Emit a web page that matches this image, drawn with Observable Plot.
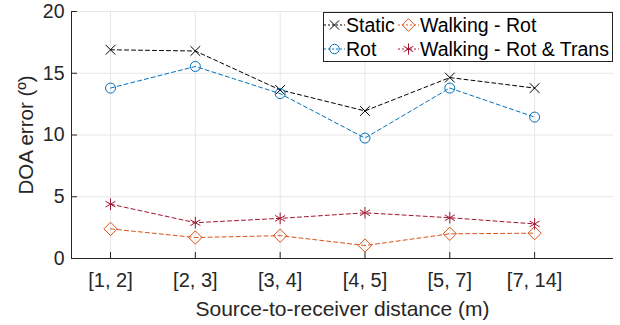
<!DOCTYPE html>
<html><head><meta charset="utf-8">
<script src="https://cdn.jsdelivr.net/npm/d3@7"></script>
<script src="https://cdn.jsdelivr.net/npm/@observablehq/plot@0.6"></script>
<style>
body{margin:0;background:#fff;font-family:"Liberation Sans",Arial,sans-serif;}
#wrap{position:relative;width:620px;height:325px;}
#legend{position:absolute;left:323px;top:12px;width:288px;height:48px;border:1px solid #262626;background:#fff;font-size:19.5px;color:#000;}
.item{position:absolute;display:flex;align-items:center;height:24px;white-space:nowrap;}
.item svg{margin-right:1px;}
</style></head>
<body><div id="wrap"><div id="legend"></div></div>
<script>
const categories = ["[1, 2]", "[2, 3]", "[3, 4]", "[4, 5]", "[5, 7]", "[7, 14]"];
const seriesNames = ["Static", "Rot", "Walking - Rot", "Walking - Rot & Trans"];
const staticVals = [16.9, 16.8, 13.65, 11.95, 14.65, 13.8];
const rotVals = [13.8, 15.55, 13.35, 9.75, 13.8, 11.45];
const walkRotVals = [2.4, 1.7, 1.85, 1.05, 2.0, 2.05];
const walkRotTransVals = [4.4, 2.9, 3.25, 3.7, 3.3, 2.8];
const yTicks = [0, 5, 10, 15, 20];
const colors = ["#000000", "#0072BD", "#D95319", "#A2142F"];
const symbols = ["times", "circle", "diamond2", "asterisk"];
const sizes = [4.5, 5, 6, 5.5];

const allVals = [staticVals, rotVals, walkRotVals, walkRotTransVals];
const data = [];
allVals.forEach((vals, s) => vals.forEach((v, i) => data.push({series: seriesNames[s], i: i + 1, v})));
const xTicks = categories.map((c, i) => i + 1);

const marks = [
  Plot.gridY(yTicks, {stroke: "#e6e6e6", strokeOpacity: 1}),
  Plot.gridX(xTicks, {stroke: "#e6e6e6", strokeOpacity: 1}),
  Plot.axisY(yTicks, {tickSize: 6, dx: 6, text: null, stroke: "#262626", label: null}),
  Plot.axisY(yTicks, {tickSize: 0, tickPadding: 7, fontSize: 19.5, fill: "#262626", label: null}),
  Plot.axisX(xTicks, {tickSize: 6, dy: -6, text: null, stroke: "#262626", label: null}),
  Plot.axisX(xTicks, {tickSize: 0, tickPadding: 14, fontSize: 20, fill: "#262626", tickFormat: d => categories[d - 1], label: null}),
  Plot.ruleX([0.54], {stroke: "#262626"}),
  Plot.ruleY([0], {stroke: "#262626"}),
];
seriesNames.forEach((name, s) => {
  const d = data.filter(r => r.series === name);
  marks.push(Plot.line(d, {x: "i", y: "v", stroke: colors[s], strokeWidth: 1, strokeDasharray: "4,3"}));
  marks.push(Plot.dot(d, {x: "i", y: "v", stroke: colors[s], symbol: () => symbols[s], r: sizes[s], strokeWidth: 1, fill: "none"}));
});
marks.push(Plot.text(["DOA error (º)"], {frameAnchor: "left", textAnchor: "middle", dx: -45, rotate: -90, fontSize: 20.5, fill: "#262626"}));
marks.push(Plot.text(["Source-to-receiver distance (m)"], {frameAnchor: "bottom", dy: 57, fontSize: 21, fill: "#262626"}));

const chart = Plot.plot({
  width: 620, height: 325,
  marginLeft: 71, marginRight: 7, marginTop: 11, marginBottom: 67,
  style: {fontFamily: "Liberation Sans, Arial, sans-serif", background: "#fff", overflow: "visible"},
  x: {domain: [0.54, 6.93], axis: null},
  y: {domain: [0, 20], axis: null},
  marks
});
document.getElementById("wrap").prepend(chart);

// legend
const legend = document.getElementById("legend");
const pos = [[0, 0], [0, 24], [74, 0], [74, 24]];
seriesNames.forEach((name, s) => {
  const div = document.createElement("div");
  div.className = "item";
  div.style.left = pos[s][0] + "px";
  div.style.top = pos[s][1] + "px";
  const sym = {times: d3.symbolTimes, circle: d3.symbolCircle, diamond2: d3.symbolDiamond2, asterisk: d3.symbolAsterisk}[symbols[s]];
  const path = d3.symbol(sym, Math.PI * sizes[s] * sizes[s] * 0.9)();
  div.innerHTML = `<svg width="21" height="24"><line x1="0" x2="21" y1="12" y2="12" stroke="${colors[s]}" stroke-dasharray="2,2"/><path d="${path}" transform="translate(10.5,12)" fill="none" stroke="${colors[s]}"/></svg><span>${name}</span>`;
  legend.appendChild(div);
});
</script></body></html>
